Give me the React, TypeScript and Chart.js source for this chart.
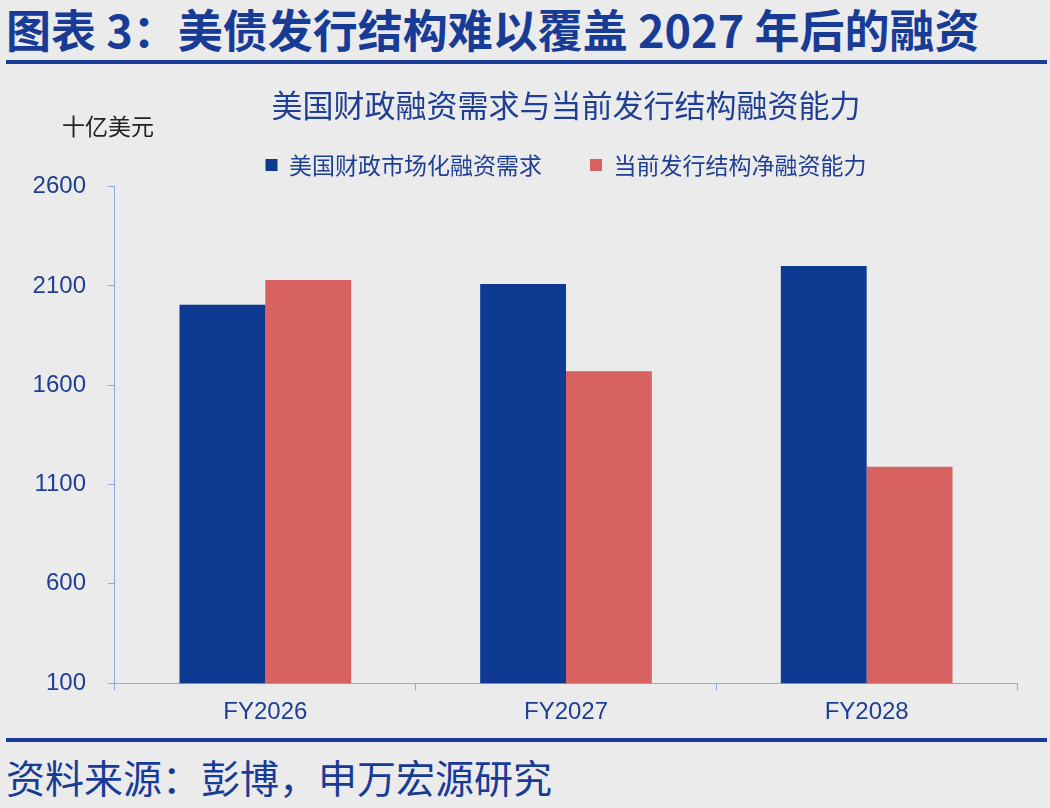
import React, { useEffect, useRef } from "react";
import { Chart, registerables } from "chart.js";

Chart.register(...registerables);

const categories = ["FY2026", "FY2027", "FY2028"];
const demand = [2005, 2110, 2200]; // 美国财政市场化融资需求
const capacity = [2130, 1670, 1190]; // 当前发行结构净融资能力
const seriesNames = ["美国财政市场化融资需求", "当前发行结构净融资能力"];
const yMin = 100;
const yMax = 2600;
const yStep = 500;

const BLUE = "#0f3a92";
const RED = "#d76261";
const TEXT_BLUE = "#1f3f94";
const HEAD_BLUE = "#183c96";
const AXIS = "#8eaadb";
const BG = "#ebebeb";
const CJK = '"Noto Sans CJK SC", "Noto Sans", sans-serif';
const LATIN = '"Liberation Sans", Arial, sans-serif';

function BarChart() {
  const canvasRef = useRef<HTMLCanvasElement | null>(null);

  useEffect(() => {
    const canvas = canvasRef.current;
    if (!canvas) return;

    const chart = new Chart(canvas, {
      type: "bar",
      data: {
        labels: categories,
        datasets: [
          { label: seriesNames[0], data: demand, backgroundColor: BLUE },
          { label: seriesNames[1], data: capacity, backgroundColor: RED },
        ],
      },
      options: {
        responsive: false,
        animation: false,
        layout: { padding: { left: 10.6, right: 33, top: 0, bottom: -5 } },
        datasets: {
          bar: { categoryPercentage: 0.571, barPercentage: 1 },
        },
        plugins: {
          title: {
            display: true,
            text: "美国财政融资需求与当前发行结构融资能力",
            fullSize: false,
            color: TEXT_BLUE,
            font: { family: CJK, size: 31, weight: "normal", lineHeight: 0.05 },
            padding: { top: 34, bottom: 0 },
          },
          legend: {
            display: true,
            position: "top",
            fullSize: false,
            labels: {
              color: TEXT_BLUE,
              font: { family: CJK, size: 23 },
              boxWidth: 12,
              boxHeight: 12,
              padding: 48,
            },
          },
          tooltip: { enabled: false },
        },
        scales: {
          x: {
            border: { color: AXIS, width: 1 },
            grid: { drawOnChartArea: false, tickLength: 7, color: AXIS },
            ticks: { color: TEXT_BLUE, font: { family: LATIN, size: 24 }, padding: 8 },
          },
          y: {
            min: yMin,
            max: yMax,
            border: { color: AXIS, width: 1 },
            grid: { drawOnChartArea: false, tickLength: 7, color: AXIS },
            ticks: {
              stepSize: yStep,
              color: TEXT_BLUE,
              font: { family: LATIN, size: 24 },
              padding: 22,
              callback: (value) => String(value),
            },
          },
        },
      },
    });

    return () => chart.destroy();
  }, []);

  return (
    <canvas
      ref={canvasRef}
      width={1050}
      height={660}
      style={{ position: "absolute", left: 0, top: 70, width: 1050, height: 660 }}
    />
  );
}

export default function App() {
  return (
    <div
      style={{
        position: "absolute",
        left: 0,
        top: 0,
        width: 1050,
        height: 808,
        background: BG,
        overflow: "hidden",
      }}
    >
      <div
        style={{
          position: "absolute",
          left: 6,
          top: 6,
          fontFamily: CJK,
          fontSize: 45,
          lineHeight: "45px",
          fontWeight: 700,
          color: HEAD_BLUE,
          whiteSpace: "nowrap",
        }}
      >
        图表 3：美债发行结构难以覆盖 2027 年后的融资
      </div>
      <div style={{ position: "absolute", left: 6, top: 60, width: 1041, height: 4, background: HEAD_BLUE }} />
      <div
        style={{
          position: "absolute",
          left: 62,
          top: 114,
          fontFamily: CJK,
          fontSize: 23,
          lineHeight: "23px",
          color: "#222",
          whiteSpace: "nowrap",
          zIndex: 1,
        }}
      >
        十亿美元
      </div>
      <BarChart />
      <div style={{ position: "absolute", left: 6, top: 738, width: 1041, height: 4, background: HEAD_BLUE }} />
      <div
        style={{
          position: "absolute",
          left: 6,
          top: 757,
          fontFamily: CJK,
          fontSize: 39,
          lineHeight: "39px",
          color: HEAD_BLUE,
          whiteSpace: "nowrap",
        }}
      >
        资料来源：彭博，申万宏源研究
      </div>
    </div>
  );
}
